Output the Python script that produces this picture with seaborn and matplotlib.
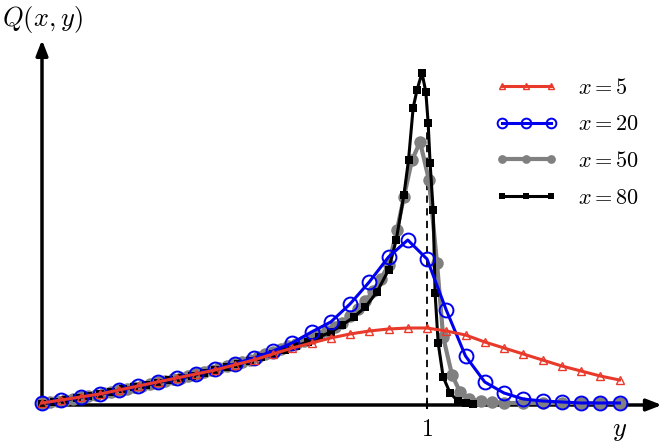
import numpy as np
import pandas as pd
import seaborn as sns
import matplotlib
matplotlib.use("Agg")
import matplotlib.pyplot as plt

plt.rcParams["mathtext.fontset"] = "cm"

# low-y common part
y_low = [0, .05, .1, .15, .2, .25, .3, .35, .4, .45, .5, .55, .6]
q_low = [2, 5, 8, 11, 15, 19, 23, 27, 31, 36, 41, 47, 54]

y_red = y_low + [.65, .7, .75, .8, .85, .9, .95, 1.0, 1.05, 1.1, 1.15, 1.2, 1.25, 1.3, 1.35, 1.4, 1.45, 1.5]
q_red = [2, 5, 8, 11, 15, 19, 23, 27, 31, 35, 40, 45, 51,
         57, 62, 67, 71, 74, 76, 77, 77, 74, 70, 63, 57, 51, 45, 39, 34, 29, 25]

y_blue = y_low + [.65, .7, .75, .8, .85, .9, .95, 1.0, 1.05, 1.1, 1.15, 1.2, 1.25, 1.3, 1.35, 1.4, 1.45, 1.5]
q_blue = q_low + [62, 73, 83, 101, 123, 148, 165, 146, 95, 49, 23, 12, 6, 4, 3, 2, 2, 2]

y_gray = [0, .02, .04, .06, .08, .1, .12, .14, .16, .18, .2, .22, .24, .26, .28, .3, .32, .34, .36, .38,
          .4, .42, .44, .46, .48, .5, .52, .54, .56, .58, .6, .62, .64, .66, .68, .7, .72, .74, .76, .78,
          .8, .82, .84, .86, .88, .9, .922, .94, .961, .982, 1.005, 1.026, 1.042, 1.065, 1.086,
          1.11, 1.14, 1.17, 1.2, 1.25, 1.3, 1.35, 1.4, 1.45, 1.5]
q_gray = [2, 3, 4, 5, 6, 8, 9, 10, 12, 13, 15, 16, 18, 19, 21, 23, 24, 26, 27, 29,
          31, 33, 35, 37, 39, 41, 43, 45, 48, 51, 53, 56, 59, 61, 64, 67, 70, 74, 78, 82,
          89, 96, 104, 114, 126, 140, 175, 208, 245, 263, 225, 142, 68, 30, 13,
          6, 4, 3, 2, 2, 2, 2, 2, 2, 2]

y_black = [0, .03, .06, .09, .12, .15, .18, .21, .24, .27, .3, .33, .36, .39, .42, .45, .48, .51, .54, .57,
           .6, .63, .66, .69, .72, .75, .78, .81, .84, .87, .9, .92, .94, .952, .964, .974, .987,
           .997, 1.003, 1.008, 1.016, 1.021, 1.029, 1.042, 1.06, 1.08, 1.1, 1.12]
q_black = [1, 3, 5, 7, 9, 11, 13, 16, 18, 20, 22, 25, 27, 29, 32, 35, 38, 41, 44, 48,
           51, 55, 59, 63, 68, 73, 80, 88, 98, 113, 135, 165, 210, 245, 297, 315, 332,
           313, 282, 242, 195, 112, 62, 28, 12, 4, 2, 1]

labels = ["$x=5$", "$x=20$", "$x=50$", "$x=80$"]

fig = plt.figure(figsize=(6.62, 4.44), dpi=100)
ax = fig.add_axes([0, 0, 1, 1])
ax.set_xlim(-42 / 385, (662 - 42) / 385)
ax.set_ylim(-39, 405)
ax.axis("off")

# dashed line at y=1
ax.plot([1, 1], [0, 300], ls=(0, (4, 3)), color="black", lw=1.3, zorder=1)

sns.lineplot(x=y_black, y=q_black, color="black", lw=2.2, marker="s", markersize=6,
             markeredgewidth=0, label=labels[3], ax=ax, zorder=5)
sns.lineplot(x=y_gray, y=q_gray, color="gray", lw=3, marker="o", markersize=9,
             markeredgewidth=0, label=labels[2], ax=ax, zorder=4)
sns.lineplot(x=y_blue, y=q_blue, color="#0000ee", lw=2.2, marker="o", markersize=10,
             markerfacecolor="none", markeredgecolor="#0000ee", markeredgewidth=1.4,
             label=labels[1], ax=ax, zorder=6)
sns.lineplot(x=y_red, y=q_red, color="#e8392a", lw=2.2, marker="^", markersize=6,
             markerfacecolor="none", markeredgecolor="#e8392a", markeredgewidth=1,
             label=labels[0], ax=ax, zorder=7)

# axes arrows
ax.annotate("", xy=(1.61, 0), xytext=(-0.005, 0),
            arrowprops=dict(arrowstyle="-|>,head_length=0.9,head_width=0.35", color="black", lw=2.5, shrinkA=0, shrinkB=0))
ax.annotate("", xy=(0, 365), xytext=(0, -3),
            arrowprops=dict(arrowstyle="-|>,head_length=0.9,head_width=0.35", color="black", lw=2.5, shrinkA=0, shrinkB=0))
ax.plot([1, 1], [-3, 3], color="black", lw=1.5)
ax.text(1, -12, "$1$", ha="center", va="top", fontsize=17)
ax.text(1.5, -12, "$y$", ha="center", va="top", fontsize=19)
ax.text(-0.105, 385, "$Q(x,y)$", ha="left", va="center", fontsize=19)

h, l = ax.get_legend_handles_labels()
order = [3, 2, 1, 0]
ax.legend([h[i] for i in order], [l[i] for i in order], loc="upper right",
          bbox_to_anchor=(0.995, 0.87), frameon=False, fontsize=16,
          handlelength=2.8, labelspacing=0.75, handletextpad=0.9, markerscale=0.7,
          numpoints=3)

fig.savefig("out.png", dpi=100)
